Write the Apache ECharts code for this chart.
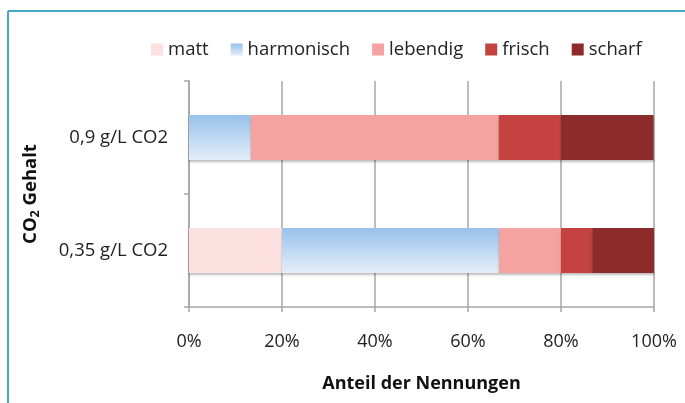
<!DOCTYPE html>
<html>
<head>
<meta charset="utf-8">
<script src="https://cdn.jsdelivr.net/npm/echarts@6/dist/echarts.min.js"></script>
<style>html,body{margin:0;padding:0;background:#fff}#c{width:685px;height:403px}</style>
</head>
<body>
<div id="c"></div>
<script>
var categories = ['0,35 g/L CO2', '0,9 g/L CO2'];
var seriesNames = ['matt', 'harmonisch', 'lebendig', 'frisch', 'scharf'];
var matt = [20, 0];
var harmonisch = [46.7, 13.3];
var lebendig = [13.3, 53.3];
var frisch = [6.7, 13.3];
var scharf = [13.3, 20];
var xTicks = [0, 20, 40, 60, 80, 100];

var values = [matt, harmonisch, lebendig, frisch, scharf];
function blueGrad() {
  return new echarts.graphic.LinearGradient(0, 0, 0, 1, [{offset: 0, color: '#98c1ea'}, {offset: 1, color: '#e4eef9'}]);
}
var colors = ['#fde0e0', blueGrad(), '#f4a3a1', '#c4423f', '#8c2b2a'];
var legendColors = ['#fde0e0', blueGrad(), '#f4a3a1', '#c4423f', '#8c2b2a'];
var FONT = 'Open Sans';

var chart = echarts.init(document.getElementById('c'));
chart.setOption({
  animation: false,
  textStyle: {fontFamily: FONT},
  graphic: [
    {type: 'line', shape: {x1: 8, y1: 11, x2: 685, y2: 11}, style: {stroke: '#45a9c3', lineWidth: 2}},
    {type: 'line', shape: {x1: 8, y1: 11, x2: 8, y2: 403}, style: {stroke: '#45a9c3', lineWidth: 2}}
  ],
  legend: {
    left: 146, top: 35,
    itemWidth: 12, itemHeight: 12, itemGap: 22,
    textStyle: {fontSize: 18.5, color: '#222', fontFamily: FONT, padding: [0, 0, 0, 0]},
    data: seriesNames.map(function (n, i) { return {name: n, icon: 'rect', itemStyle: {color: legendColors[i]}}; })
  },
  grid: {left: 189, right: 31, top: 81, bottom: 96, containLabel: false},
  xAxis: {
    type: 'value', min: 0, max: 100, interval: 20,
    name: 'Anteil der Nennungen', nameLocation: 'middle', nameGap: 68,
    nameTextStyle: {fontSize: 18, fontWeight: 'bold', color: '#111', fontFamily: FONT},
    axisLine: {show: true, lineStyle: {color: '#a6a6a6', width: 1.5}},
    axisTick: {show: true, length: 5, lineStyle: {color: '#a6a6a6', width: 1.5}},
    axisLabel: {formatter: '{value}%', fontSize: 18, color: '#222', margin: 26},
    splitLine: {show: true, lineStyle: {color: '#a6a6a6', width: 1.5}}
  },
  yAxis: {
    type: 'category', data: categories,
    name: '{a|CO}{b|2}{a| Gehalt}', nameLocation: 'middle', nameGap: 147, nameRotate: 90,
    nameTextStyle: {rich: {a: {fontSize: 18.5, fontWeight: 'bold', color: '#111', fontFamily: FONT}, b: {fontSize: 12.5, fontWeight: 'bold', color: '#111', fontFamily: FONT, padding: [9, 0, 0, 0]}}},
    axisLine: {show: true, lineStyle: {color: '#a6a6a6', width: 1.5}},
    axisTick: {show: true, length: 5, lineStyle: {color: '#a6a6a6', width: 1.5}},
    axisLabel: {fontSize: 18.5, color: '#222', margin: 21}
  },
  series: seriesNames.map(function (n, i) {
    return {
      name: n, type: 'bar', stack: 'total', barWidth: 45,
      data: values[i],
      itemStyle: {color: colors[i], shadowColor: 'rgba(0,0,0,0.25)', shadowOffsetY: 2, shadowBlur: 2}
    };
  })
});
</script>
</body>
</html>
